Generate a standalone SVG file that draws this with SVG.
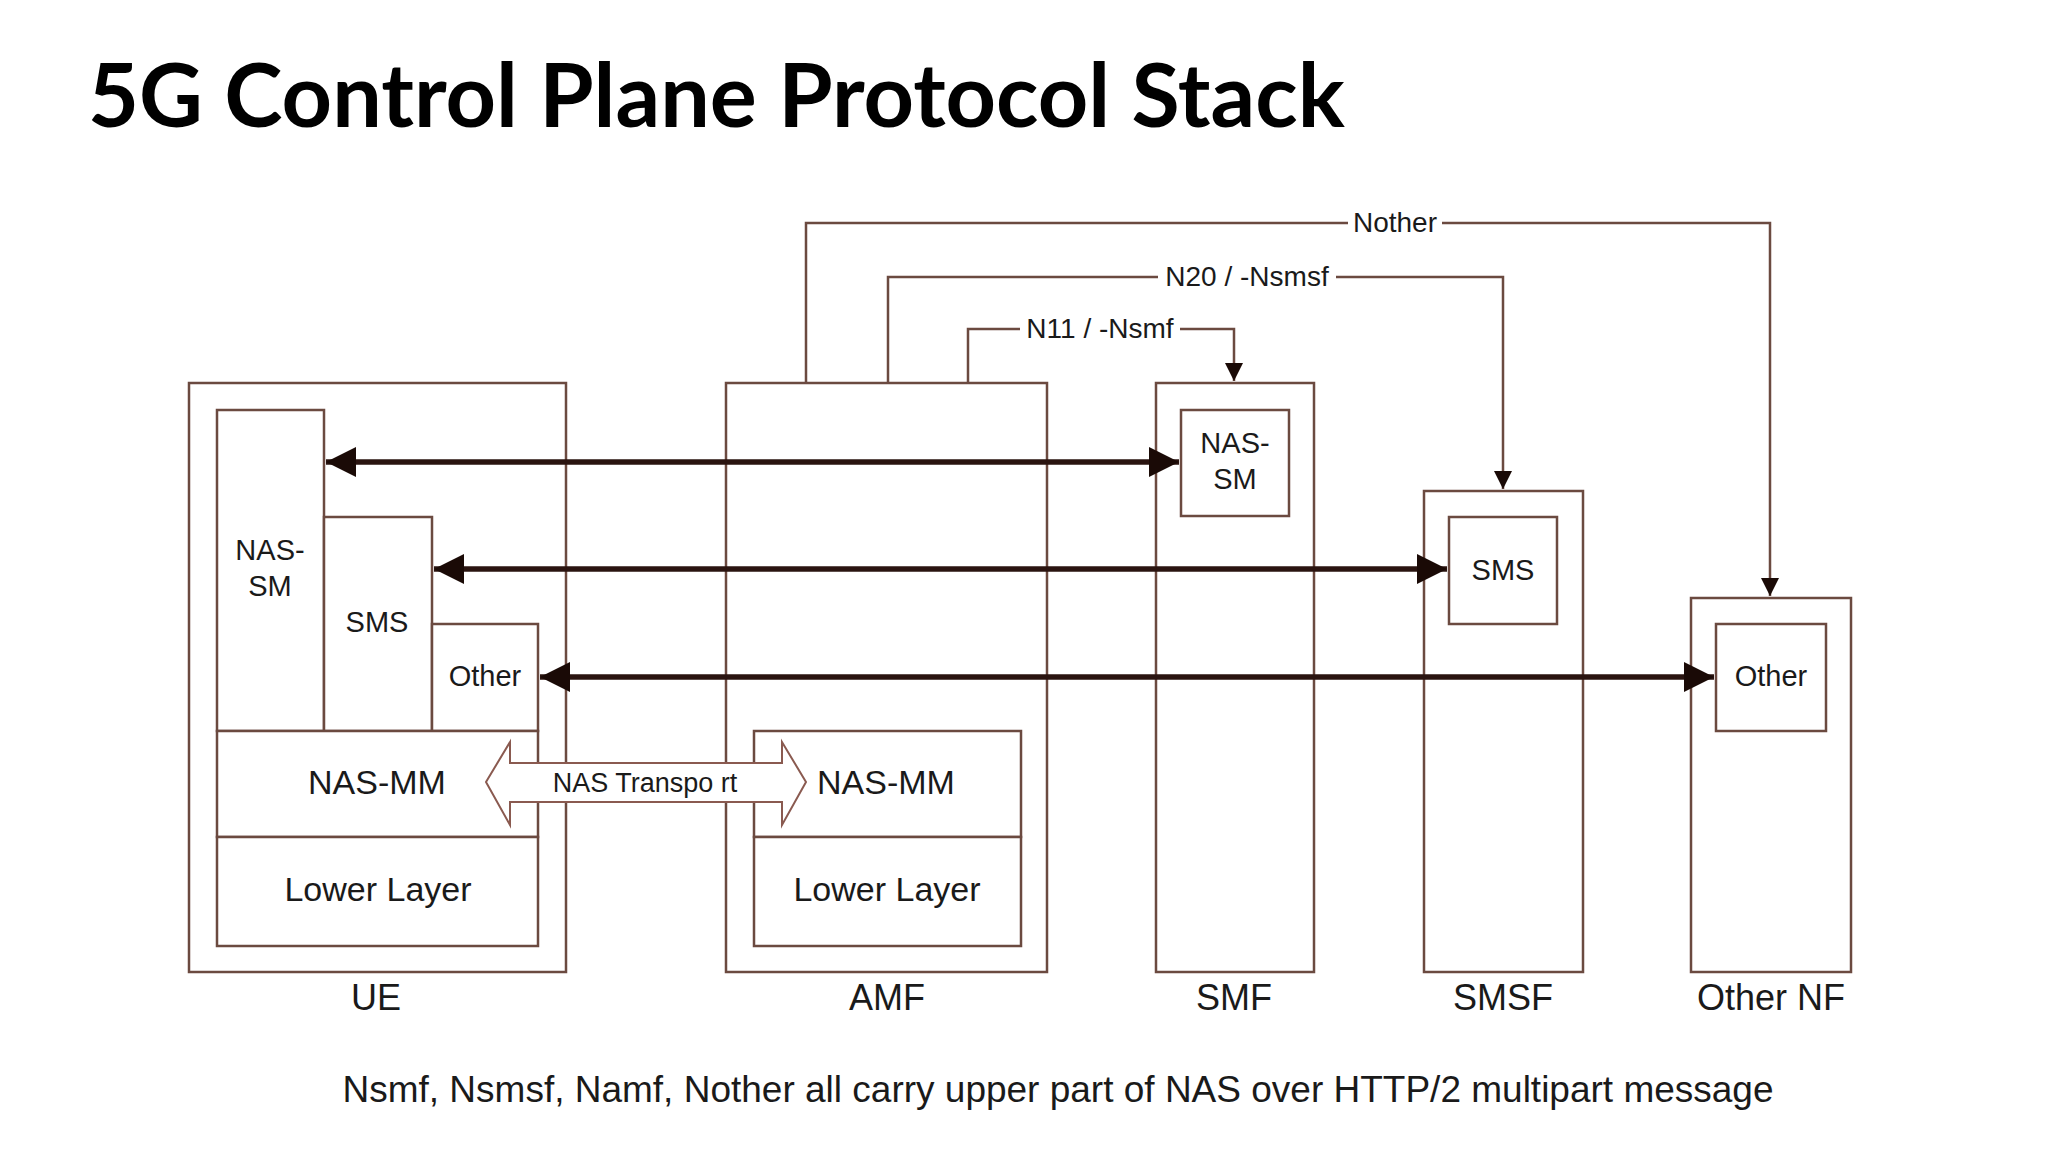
<svg xmlns="http://www.w3.org/2000/svg" width="2048" height="1152" viewBox="0 0 2048 1152">
<defs>
<style>
.b{fill:#fff;stroke:#6b4a40;stroke-width:2.5}
.t{font-family:"Liberation Sans",Arial,sans-serif;fill:#1a1a1a;text-anchor:middle}
.s{font-size:29px}
.m{font-size:34px}
.n{font-size:36px}
.c{fill:none;stroke:#6b4a40;stroke-width:2.5}
.a{stroke:#2a1410;stroke-width:5.5;fill:none}
</style>
<marker id="h" viewBox="0 0 10 10" refX="10" refY="5" markerWidth="7" markerHeight="7" markerUnits="userSpaceOnUse" orient="auto-start-reverse"><path d="M0,0L10,5L0,10z" fill="#1a0a06"/></marker>
<marker id="hs" viewBox="0 0 10 10" refX="10" refY="5" markerWidth="18" markerHeight="22" markerUnits="userSpaceOnUse" orient="auto"><path d="M0,0L10,5L0,10z" fill="#1a0a06"/></marker>
<marker id="hb" viewBox="0 0 10 10" refX="10" refY="5" markerWidth="40" markerHeight="30" markerUnits="userSpaceOnUse" orient="auto-start-reverse"><path d="M0,0L10,5L0,10z" fill="#1a0a06"/></marker>
</defs>
<rect width="2048" height="1152" fill="#fff"/>
<text x="88" y="127" font-family="Lato,'Liberation Sans',sans-serif" font-weight="bold" font-size="88" fill="#000">5G Control Plane Protocol Stack</text>

<g id="UE">
<rect class="b" x="189" y="383" width="377" height="589"/>
<rect class="b" x="217" y="410" width="107" height="321"/>
<rect class="b" x="324" y="517" width="108" height="214"/>
<rect class="b" x="432" y="624" width="106" height="107"/>
<rect class="b" x="217" y="731" width="321" height="106"/>
<rect class="b" x="217" y="837" width="321" height="109"/>
<text class="t s" x="270" y="560">NAS-</text><text class="t s" x="270" y="596">SM</text>
<text class="t s" x="377" y="632">SMS</text>
<text class="t s" x="485" y="686">Other</text>
<text class="t m" x="377" y="794">NAS-MM</text>
<text class="t m" x="378" y="901">Lower Layer</text>
<text class="t n" x="376" y="1010">UE</text>
</g>
<g id="AMF">
<rect class="b" x="726" y="383" width="321" height="589"/>
<rect class="b" x="754" y="731" width="267" height="106"/>
<rect class="b" x="754" y="837" width="267" height="109"/>
<text class="t m" x="886" y="794">NAS-MM</text>
<text class="t m" x="887" y="901">Lower Layer</text>
<text class="t n" x="887" y="1010">AMF</text>
</g>
<g id="SMF">
<rect class="b" x="1156" y="383" width="158" height="589"/>
<rect class="b" x="1181" y="410" width="108" height="106"/>
<text class="t s" x="1235" y="453">NAS-</text><text class="t s" x="1235" y="489">SM</text>
<text class="t n" x="1234" y="1010">SMF</text>
</g>
<g id="SMSF">
<rect class="b" x="1424" y="491" width="159" height="481"/>
<rect class="b" x="1449" y="517" width="108" height="107"/>
<text class="t s" x="1503" y="580">SMS</text>
<text class="t n" x="1503" y="1010">SMSF</text>
</g>
<g id="OtherNF">
<rect class="b" x="1691" y="598" width="160" height="374"/>
<rect class="b" x="1716" y="624" width="110" height="107"/>
<text class="t s" x="1771" y="686">Other</text>
<text class="t n" x="1771" y="1010">Other NF</text>
</g>

<g id="connectors">
<path class="c" d="M806,383V223H1770V596" marker-end="url(#hs)"/>
<path class="c" d="M888,383V277H1503V489" marker-end="url(#hs)"/>
<path class="c" d="M968,383V329H1234V381" marker-end="url(#hs)"/>
<rect x="1348" y="206" width="94" height="34" fill="#fff"/>
<text class="t" font-size="28" x="1395" y="232">Nother</text>
<rect x="1158" y="260" width="178" height="34" fill="#fff"/>
<text class="t" font-size="28" x="1247" y="286">N20 / -Nsmsf</text>
<rect x="1020" y="312" width="160" height="34" fill="#fff"/>
<text class="t" font-size="28" x="1100" y="338">N11 / -Nsmf</text>

<line class="a" x1="326" y1="462" x2="1179" y2="462" marker-start="url(#hb)" marker-end="url(#hb)"/>
<line class="a" x1="434" y1="569" x2="1447" y2="569" marker-start="url(#hb)" marker-end="url(#hb)"/>
<line class="a" x1="540" y1="677" x2="1714" y2="677" marker-start="url(#hb)" marker-end="url(#hb)"/>

<path d="M486,782L510,742V763H782V742L806,782L782,825V802H510V825Z" fill="#fff" stroke="#8a5a50" stroke-width="2"/>
<text class="t" font-size="27" x="645" y="792">NAS Transpo rt</text>
</g>

<text class="t" font-size="37" x="1058" y="1102" fill="#000">Nsmf, Nsmsf, Namf, Nother all carry upper part of NAS over HTTP/2 multipart message</text>
</svg>
